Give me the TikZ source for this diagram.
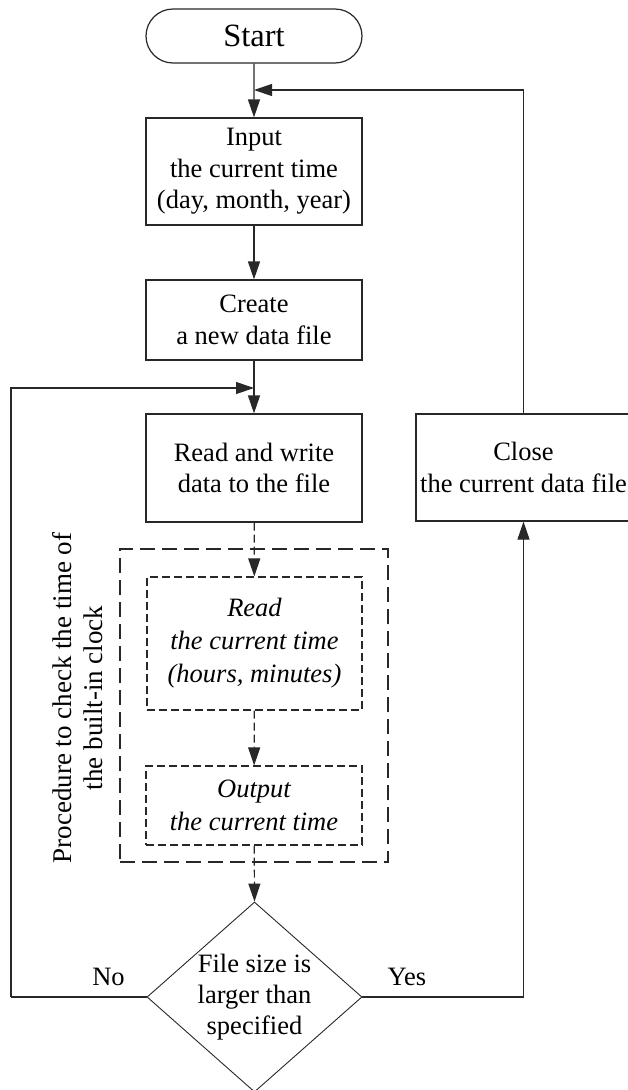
\documentclass[tikz,border=0pt]{standalone}
\usepackage{fontspec}
\setmainfont{Liberation Serif}
\usetikzlibrary{shapes.geometric,shapes.misc,arrows.meta}
\definecolor{ink}{RGB}{40,40,40}
\begin{document}
\begin{tikzpicture}[x=1pt,y=-1pt,
  txt/.style={font=\fontsize{26.5}{31.5}\selectfont, text=black, align=center},
  box/.style={txt, draw=ink, line width=1.2pt, rectangle, inner sep=0pt,
    minimum width=216pt},
  dbox/.style={box, dash pattern=on 8pt off 4pt, font=\fontsize{26.5}{33}\selectfont\itshape},
  group/.style={draw=ink, line width=1.2pt, rectangle, inner sep=0pt,
    dash pattern=on 15pt off 7pt},
  pill/.style={txt, draw=ink, line width=1.2pt, rounded rectangle, inner sep=0pt,
    minimum width=216pt, minimum height=54pt, font=\fontsize{32.5}{36}\selectfont},
  decision/.style={draw=ink, line width=0.9pt, diamond, inner sep=0pt,
    minimum width=215pt, minimum height=190pt},
  link/.style={draw=ink, line width=1.2pt, -{Triangle[length=18pt,width=12pt]}},
  dlink/.style={link, dash pattern=on 8pt off 4pt},
  wire/.style={draw=ink, line width=1.2pt}]
\useasboundingbox (0,0) rectangle (627,1090);

% main column
\node[pill] (start) at (254,36) {Start};
\node[box, minimum height=107pt] (input) at (254,171.5)
  {Input\\the current time\\(day, month, year)};
\node[box, minimum height=80pt] (create) at (254,320)
  {Create\\a new data file};
\node[box, minimum height=108pt] (rw) at (254,468)
  {Read and write\\data to the file};

% clock-check procedure
\node[group, minimum width=268pt, minimum height=313pt] (proc) at (254,705.5) {};
\node[dbox, minimum width=215pt, minimum height=133pt] (rt) at (254.5,643.5)
  {Read\\the current time\\(hours, minutes)};
\node[dbox, minimum height=79pt] (out) at (254,805.5)
  {Output\\the current time};
\node[txt, rotate=90, font=\fontsize{27}{31}\selectfont] (proclabel) at (77.5,698)
  {Procedure to check the time of\\the built-in clock};

% decision
\node[decision] (dec) at (254.5,997) {};
\node[txt, font=\fontsize{26.5}{31}\selectfont] (dectext) at (254.5,997)
  {File size is\\larger than\\specified};

% right branch
\node[box, minimum width=215pt, minimum height=107pt] (close) at (523.5,467.5)
  {Close\\the current data file};

% branch labels
\node[txt] (no) at (108.5,977) {No};
\node[txt] (yes) at (407,977) {Yes};

% junctions
\coordinate (j1) at (254,90);
\coordinate (j2) at (254,388);
\coordinate (lx) at (11,997);

% connectors
\draw[link] (start) -- (input);
\draw[link] (input) -- (create);
\draw[link] (create) -- (rw);
\draw[dlink] (rw) -- (rt);
\draw[dlink] (rt) -- (out);
\draw[dlink] (out) -- (dec.north);
\draw[link] (dec.east) -| (close.south);
\draw[link] (close.north) |- (j1);
\draw[wire] (dec.west) -- (lx);
\draw[link] (lx) |- (j2);
\end{tikzpicture}
\end{document}
